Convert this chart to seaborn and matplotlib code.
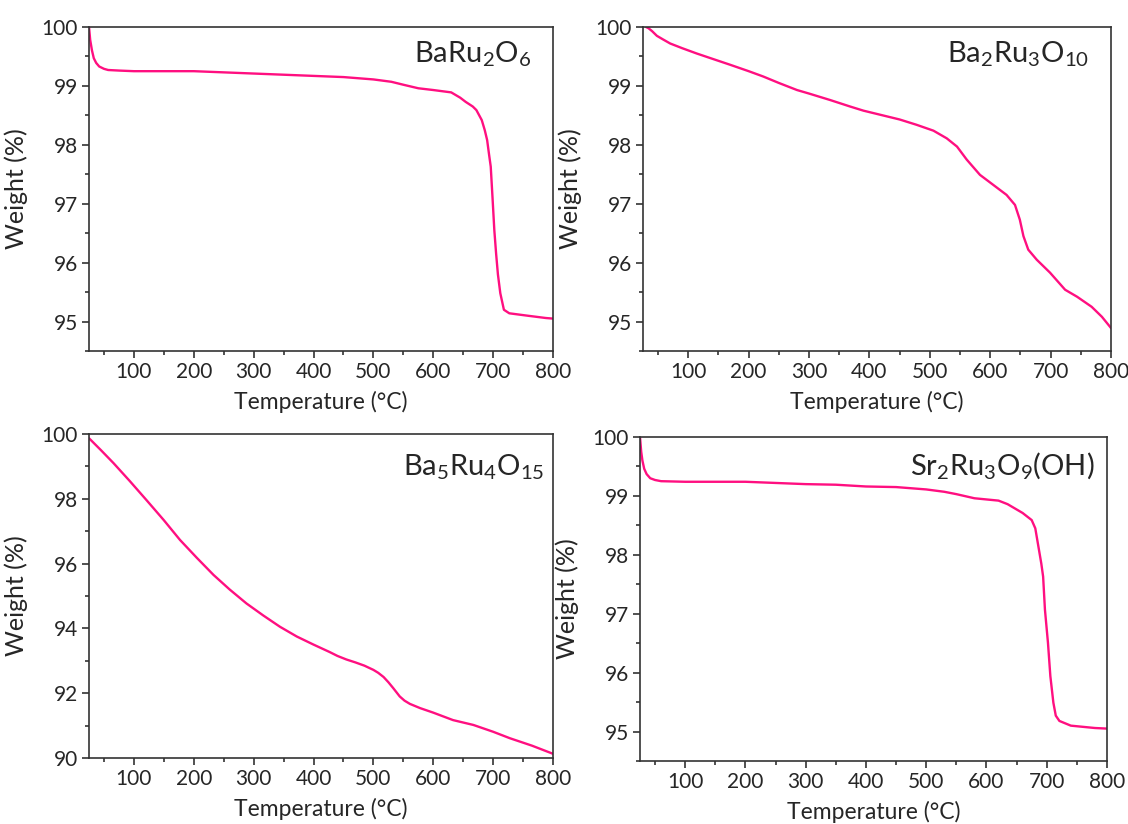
import matplotlib
matplotlib.use("Agg")
import matplotlib.pyplot as plt
from matplotlib.ticker import MultipleLocator, FixedLocator
import seaborn as sns
import pandas as pd

# --- TGA data: temperature (°C) and remaining weight (%) ---
baru2o6_T = [25, 27, 30, 33, 37, 42, 50, 57, 76, 100, 150, 200, 250, 300, 350, 400, 450,
             500, 530, 550, 575, 600, 630, 645, 654, 666, 672, 681, 686, 690, 693, 696,
             699, 702, 705, 708, 712, 718, 727, 757, 788, 800]
baru2o6_W = [100.0, 99.78, 99.6, 99.47, 99.39, 99.33, 99.29, 99.27, 99.26, 99.25, 99.25,
             99.25, 99.23, 99.21, 99.19, 99.17, 99.15, 99.11, 99.07, 99.02, 98.96, 98.93,
             98.89, 98.80, 98.73, 98.65, 98.59, 98.42, 98.25, 98.08, 97.85, 97.63, 97.1,
             96.55, 96.15, 95.8, 95.48, 95.2, 95.14, 95.1, 95.06, 95.05]

ba2ru3o10_T = [30, 34, 40, 48, 58, 70, 90, 114, 140, 169, 200, 224, 250, 280, 300, 335,
               368, 390, 418, 450, 478, 506, 528, 545, 561, 583, 605, 627, 641, 649, 655,
               663, 677, 699, 724, 744, 768, 785, 800]
ba2ru3o10_W = [100.0, 99.98, 99.93, 99.85, 99.79, 99.72, 99.64, 99.55, 99.46, 99.36, 99.25,
               99.16, 99.05, 98.93, 98.87, 98.76, 98.65, 98.58, 98.51, 98.43, 98.34, 98.24,
               98.11, 97.97, 97.75, 97.49, 97.32, 97.15, 96.98, 96.73, 96.45, 96.22, 96.05,
               95.83, 95.54, 95.42, 95.25, 95.08, 94.89]

ba5ru4o15_T = [25, 45, 66, 93, 121, 150, 177, 205, 233, 260, 288, 316, 344, 372, 400, 427,
               440, 455, 470, 485, 500, 508, 517, 525, 533, 544, 552, 561, 578, 600, 633,
               667, 700, 728, 765, 800]
ba5ru4o15_W = [99.87, 99.5, 99.1, 98.55, 97.96, 97.34, 96.73, 96.18, 95.65, 95.2, 94.77,
               94.40, 94.05, 93.75, 93.50, 93.27, 93.15, 93.04, 92.95, 92.85, 92.72, 92.63,
               92.50, 92.34, 92.16, 91.90, 91.77, 91.67, 91.54, 91.40, 91.17, 91.02, 90.81,
               90.61, 90.38, 90.13]

sr2ru3o9oh_T = [25, 27, 29, 32, 36, 42, 50, 60, 100, 200, 250, 300, 350, 400, 450, 500,
                530, 550, 580, 620, 635, 650, 660, 675, 681, 687, 691, 694, 697, 702, 706,
                711, 715, 721, 740, 780, 800]
sr2ru3o9oh_W = [100.0, 99.75, 99.6, 99.46, 99.37, 99.3, 99.27, 99.25, 99.24, 99.24, 99.22,
                99.2, 99.19, 99.16, 99.15, 99.11, 99.07, 99.03, 98.96, 98.92, 98.86, 98.77,
                98.71, 98.59, 98.45, 98.09, 97.85, 97.63, 97.07, 96.51, 95.94, 95.49, 95.27,
                95.18, 95.1, 95.06, 95.05]

panels = [
    (baru2o6_T, baru2o6_W, r"BaRu$_\mathregular{2}$O$_\mathregular{6}$"),
    (ba2ru3o10_T, ba2ru3o10_W, r"Ba$_\mathregular{2}$Ru$_\mathregular{3}$O$_\mathregular{10}$"),
    (ba5ru4o15_T, ba5ru4o15_W, r"Ba$_\mathregular{5}$Ru$_\mathregular{4}$O$_\mathregular{15}$"),
    (sr2ru3o9oh_T, sr2ru3o9oh_W, r"Sr$_\mathregular{2}$Ru$_\mathregular{3}$O$_\mathregular{9}$(OH)"),
]

sns.set_style("ticks")
plt.rcParams["font.family"] = ["Lato", "DejaVu Sans"]
plt.rcParams["mathtext.fontset"] = "custom"
plt.rcParams["mathtext.rm"] = "Lato"
plt.rcParams["mathtext.it"] = "Lato:italic"

LINE = "#FF0F80"
SPINE = "#333333"

fig = plt.figure(figsize=(11.28, 8.24), dpi=100)
W, H = 1128, 824
# axes boxes in pixels: left, top, right, bottom
boxes = [(89, 27, 553, 351), (643, 27, 1111, 351), (89, 434, 553, 758), (640, 437, 1107, 761)]
ylims = [(94.5, 100), (94.5, 100), (90, 100), (94.5, 100)]
label_pos = [(0.953, 0.889), (0.953, 0.889), (0.981, 0.873), (0.973, 0.883)]

for (T, Wt, name), (l, t, r, b), ylim, (tx, ty) in zip(panels, boxes, ylims, label_pos):
    ax = fig.add_axes([l / W, 1 - b / H, (r - l) / W, (b - t) / H])
    df = pd.DataFrame({"Temperature": T, "Weight": Wt})
    sns.lineplot(data=df, x="Temperature", y="Weight", ax=ax, color=LINE, lw=1.7,
                 sort=False, estimator=None)
    ax.set_xlim(25, 800)
    ax.set_ylim(*ylim)
    ax.xaxis.set_major_locator(FixedLocator(list(range(100, 801, 100))))
    ax.xaxis.set_minor_locator(FixedLocator(list(range(50, 800, 100))))
    if ylim[0] == 90:
        ax.yaxis.set_major_locator(MultipleLocator(2))
        ax.yaxis.set_minor_locator(MultipleLocator(1))
    else:
        ax.yaxis.set_major_locator(FixedLocator([95, 96, 97, 98, 99, 100]))
        ax.yaxis.set_minor_locator(FixedLocator([94.5, 95.5, 96.5, 97.5, 98.5, 99.5]))
    ax.tick_params(which="major", direction="out", length=5, width=1.2, color=SPINE,
                   labelsize=15, pad=3, top=False, right=False)
    ax.tick_params(which="minor", direction="out", length=3, width=1.2, color=SPINE,
                   top=False, right=False)
    for s in ax.spines.values():
        s.set_visible(True)
        s.set_color(SPINE)
        s.set_linewidth(1.2)
    ax.set_xlabel("Temperature (°C)", fontsize=16.5, labelpad=6)
    ax.set_ylabel("Weight (%)", fontsize=18, labelpad=10)
    ax.text(tx, ty, name, transform=ax.transAxes, ha="right", va="baseline", fontsize=21)

fig.savefig("out.png", dpi=100, facecolor="white")
